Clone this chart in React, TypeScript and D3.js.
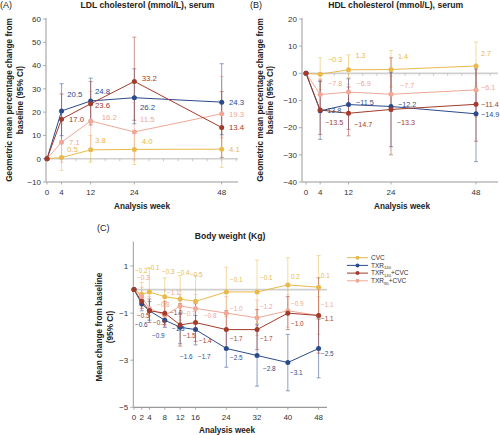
import React from "react";
import * as d3 from "d3";

const FONT = "'Liberation Sans', Arial, Helvetica, sans-serif";

// ---------- colours ----------
const C_CVC = "#e9b94c";
const C_TXR140 = "#2b4a8b";
const C_TXR140CVC = "#a23b2b";
const C_TXR90CVC = "#f0a796";

// ---------- Panel A: LDL cholesterol ----------
const weeksAB = [0, 4, 12, 24, 48];
const ticksYA = [-10, 0, 10, 20, 30, 40, 50, 60];
const ldlCVC = [0, 0.5, 3.8, 4.0, 4.1];
const ldlCVCLo = [0, -5, -1.5, -2.5, -3.7];
const ldlCVCHi = [0, 6.5, 10, 11, 12.5];
const ldlTXR140 = [0, 20.5, 24.8, 26.2, 24.3];
const ldlTXR140Lo = [0, 9.9, 15.5, 15, 10.3];
const ldlTXR140Hi = [0, 32.2, 34.6, 38.6, 40.8];
const ldlTXR140CVC = [0, 17.0, 23.6, 33.2, 13.4];
const ldlTXR140CVCLo = [0, 7, 14.5, 16.5, 0.5];
const ldlTXR140CVCHi = [0, 27.8, 33.2, 52.2, 28.9];
const ldlTXR90CVC = [0, 7.1, 16.2, 11.5, 19.3];
const ldlTXR90CVCLo = [0, -1.5, 3.5, -0.5, 9];
const ldlTXR90CVCHi = [0, 15, 29, 24, 35.3];

// ---------- Panel B: HDL cholesterol ----------
const ticksYB = [-40, -30, -20, -10, 0, 10, 20];
const hdlCVC = [0, -0.3, 1.3, 1.4, 2.7];
const hdlCVCLo = [0, -6, -4, -5, -5];
const hdlCVCHi = [0, 5.7, 6.8, 8.4, 11.5];
const hdlTXR140 = [0, -13.8, -11.5, -12.2, -14.9];
const hdlTXR140Lo = [0, -24.3, -20.6, -27, -32.5];
const hdlTXR140Hi = [0, -3, -2, 0.4, 1.6];
const hdlTXR140CVC = [0, -13.5, -14.7, -13.3, -11.4];
const hdlTXR140CVCLo = [0, -22.5, -23, -30, -25];
const hdlTXR140CVCHi = [0, -2.5, -5, 5.7, 2.8];
const hdlTXR90CVC = [0, -7.8, -6.9, -7.7, -6.1];
const hdlTXR90CVCLo = [0, -13, -12, -14, -16];
const hdlTXR90CVCHi = [0, -2, -1.5, -1, 3];

// ---------- Panel C: Body weight ----------
const weeksC = [0, 2, 4, 8, 12, 16, 24, 32, 40, 48];
const ticksYC = [-5, -3, -1, 1];
const bwCVC = [0, -0.2, -0.1, -0.3, -0.4, -0.5, -0.1, -0.1, 0.2, 0.1];
const bwCVCLo = [0, -0.7, -1.1, -1.1, -1.4, -1.6, -1.15, -1.45, -0.95, -1.25];
const bwCVCHi = [0, 0.3, 0.9, 0.5, 0.6, 0.6, 0.95, 1.25, 1.35, 1.45];
const bwTXR140 = [0, -0.6, -0.9, -1.3, -1.6, -1.7, -2.5, -2.8, -3.1, -2.5];
const bwTXR140Lo = [0, -0.9, -1.3, -1.6, -2.3, -2.35, -3.3, -4.1, -4.3, -3.75];
const bwTXR140Hi = [0, -0.3, -0.5, -1.0, -1.0, -1.1, -1.7, -1.5, -1.9, -1.25];
const bwTXR140CVC = [0, -0.5, -0.9, -1.0, -1.5, -1.4, -1.7, -1.7, -1.0, -1.1];
const bwTXR140CVCLo = [0, -0.8, -1.4, -1.5, -2.4, -2.2, -2.5, -2.55, -1.7, -2.7];
const bwTXR140CVCHi = [0, -0.2, -0.4, -0.5, -0.6, -0.6, -0.9, -0.85, -0.3, 0.5];
const bwTXR90CVC = [0, -0.3, -0.8, -1.1, -0.7, -0.8, -1.0, -1.2, -0.9, -1.1];
const bwTXR90CVCLo = [0, -0.7, -1.4, -1.6, -1.3, -1.4, -1.7, -1.95, -1.6, -1.9];
const bwTXR90CVCHi = [0, 0.1, -0.3, -0.6, -0.2, -0.2, -0.3, -0.45, -0.2, -0.3];

// ---------- label placement (layout only, pixels: [dx, dy]) ----------
const offA = {
  cvc: [[0, 0], [5.4, -7.8], [4.3, -9.4], [7.3, -7.7], [7.3, 0]],
  t140: [[0, 0], [5.7, -17], [4.3, -9.5], [5.6, 9.4], [7.3, 0]],
  t140c: [[0, 0], [7.4, 0], [4.3, 2], [7.3, -3.3], [7.3, 0]],
  t90c: [[0, 0], [7.4, 0], [11, -3.6], [5.6, -13], [7.3, 0]],
};
const offB = {
  cvc: [[0, 0], [8, -15], [7, -14], [7, -13], [5, -13]],
  t140: [[0, 0], [3, 0], [7.5, -2], [7, -2], [5, 0.5]],
  t140c: [[0, 0], [5, 12.5], [5.5, 11], [5.7, 13], [5, 0]],
  t90c: [[0, 0], [8, -11], [8, -8.7], [9, -8.5], [5, -2.5]],
};
const offC = {
  cvc: [[0, 0], [-6.7, -24], [-2.4, -24.3], [-2.8, -24.7], [-3.2, -26], [-5.5, -26.7], [3.7, -12], [3, -14], [3.2, -8.2], [2.4, -11.5]],
  t140: [[0, 0], [-6.7, 21.3], [2.6, 24.9], [7.2, 8.8], [-0.2, 29.4], [2.5, 27.1], [3.7, 9.2], [6, 12.8], [2.2, 10.1], [2.4, 5.8]],
  t140c: [[0, 0], [-4.7, 14.3], [3.6, 11.5], [5.2, 0], [2.8, 10.8], [3.5, 18.1], [3.7, 9.4], [3, 8.7], [3.2, 10.8], [2.4, 3.5]],
  t90c: [[0, 0], [-4.7, -18.4], [7.6, -3.4], [2.2, -22.8], [2.8, 8], [8.5, 7.6], [3.7, -4.2], [3, -10.6], [3.2, -6.8], [2.4, -10.5]],
};

type Series = {
  color: string;
  values: number[];
  lo: number[];
  hi: number[];
  off: number[][];
};

const fmt = (v: number) => v.toFixed(1).replace("-", "\u2212");
const fmtTick = (v: number) => String(v).replace("-", "\u2212");

type PanelProps = {
  weeks: number[];
  series: Series[];
  x: d3.ScaleLinear<number, number>;
  y: d3.ScaleLinear<number, number>;
  yTicks: number[];
  yAxisX: number;
  xAxisEnd: number;
  zeroTicks: number[];
  labelSize: number;
};

function Panel({ weeks, series, x, y, yTicks, yAxisX, xAxisEnd, zeroTicks, labelSize }: PanelProps) {
  const [yMin, yMax] = y.domain();
  const yb = y(yMin);
  const y0 = y(0);
  const line = d3
    .line<number>()
    .x((_, i) => x(weeks[i]))
    .y((d) => y(d));
  return (
    <g>
      {/* zero reference line */}
      <line x1={x(0)} x2={xAxisEnd} y1={y0} y2={y0} stroke="#cfcfcf" strokeWidth={1.6} />
      {zeroTicks.map((w) => (
        <line key={"zt" + w} x1={x(w)} x2={x(w)} y1={y0} y2={y0 + 2.5} stroke="#b5b5b5" strokeWidth={0.7} />
      ))}
      {/* y axis */}
      <line x1={yAxisX} x2={yAxisX} y1={y(yMax) - 1} y2={yb} stroke="#9a9a9a" strokeWidth={1} />
      {yTicks.map((t) => (
        <g key={"yt" + t}>
          <line x1={yAxisX - 3} x2={yAxisX} y1={y(t)} y2={y(t)} stroke="#9a9a9a" strokeWidth={0.8} />
          <text x={yAxisX - 5} y={y(t)} dy="0.35em" textAnchor="end" fontSize={8} fill="#333" fontFamily={FONT}>
            {fmtTick(t)}
          </text>
        </g>
      ))}
      {/* x axis */}
      <line x1={yAxisX} x2={xAxisEnd} y1={yb} y2={yb} stroke="#9a9a9a" strokeWidth={1.2} />
      {weeks.map((w) => (
        <g key={"xt" + w}>
          <line x1={x(w)} x2={x(w)} y1={yb} y2={yb + 2.5} stroke="#9a9a9a" strokeWidth={0.8} />
          <text x={x(w)} y={yb + 10} dy="0.35em" textAnchor="middle" fontSize={8} fill="#333" fontFamily={FONT}>
            {w}
          </text>
        </g>
      ))}
      {/* error bars */}
      {series.map((s, si) =>
        weeks.map((w, i) =>
          i === 0 ? null : (
            <g key={"eb" + si + "-" + i} stroke={s.color} strokeWidth={0.8} opacity={0.65}>
              <line x1={x(w)} x2={x(w)} y1={y(s.lo[i])} y2={y(s.hi[i])} />
              <line x1={x(w) - 2} x2={x(w) + 2} y1={y(s.lo[i])} y2={y(s.lo[i])} />
              <line x1={x(w) - 2} x2={x(w) + 2} y1={y(s.hi[i])} y2={y(s.hi[i])} />
            </g>
          )
        )
      )}
      {/* lines */}
      {series.map((s, si) => (
        <path key={"ln" + si} d={line(s.values) || ""} fill="none" stroke={s.color} strokeWidth={1} />
      ))}
      {/* points */}
      {series.map((s, si) =>
        s.values.map((v, i) => (
          <circle key={"pt" + si + "-" + i} cx={x(weeks[i])} cy={y(v)} r={2.5} fill={s.color} />
        ))
      )}
      {/* value labels */}
      {series.map((s, si) =>
        s.values.map((v, i) =>
          i === 0 ? null : (
            <text
              key={"lb" + si + "-" + i}
              x={x(weeks[i]) + s.off[i][0]}
              y={y(v) + s.off[i][1]}
              dy="0.35em"
              fontSize={labelSize}
              fill={s.color}
              fontFamily={FONT}
            >
              {fmt(v)}
            </text>
          )
        )
      )}
    </g>
  );
}

function YLabel({ cx, cy, lines, gap }: { cx: number; cy: number; lines: string[]; gap: number }) {
  return (
    <g transform={`translate(${cx},${cy}) rotate(-90)`}>
      {lines.map((l, i) => (
        <text key={i} x={0} y={i * gap} dy="0.35em" textAnchor="middle" fontSize={8.3} fontWeight="bold" fill="#222" fontFamily={FONT}>
          {l}
        </text>
      ))}
    </g>
  );
}

export default function App() {
  const xA = d3.scaleLinear().domain([0, 48]).range([47, 221.7]);
  const yA = d3.scaleLinear().domain([-10, 60]).range([182, 19]);
  const xB = d3.scaleLinear().domain([0, 48]).range([306, 476]);
  const yB = d3.scaleLinear().domain([-40, 20]).range([182, 19]);
  const xC = d3.scaleLinear().domain([0, 48]).range([134, 318.6]);
  const yC = d3.scaleLinear().domain([-5, 2]).range([407.3, 242.5]);

  const seriesA: Series[] = [
    { color: C_CVC, values: ldlCVC, lo: ldlCVCLo, hi: ldlCVCHi, off: offA.cvc },
    { color: C_TXR90CVC, values: ldlTXR90CVC, lo: ldlTXR90CVCLo, hi: ldlTXR90CVCHi, off: offA.t90c },
    { color: C_TXR140, values: ldlTXR140, lo: ldlTXR140Lo, hi: ldlTXR140Hi, off: offA.t140 },
    { color: C_TXR140CVC, values: ldlTXR140CVC, lo: ldlTXR140CVCLo, hi: ldlTXR140CVCHi, off: offA.t140c },
  ];
  const seriesB: Series[] = [
    { color: C_CVC, values: hdlCVC, lo: hdlCVCLo, hi: hdlCVCHi, off: offB.cvc },
    { color: C_TXR90CVC, values: hdlTXR90CVC, lo: hdlTXR90CVCLo, hi: hdlTXR90CVCHi, off: offB.t90c },
    { color: C_TXR140, values: hdlTXR140, lo: hdlTXR140Lo, hi: hdlTXR140Hi, off: offB.t140 },
    { color: C_TXR140CVC, values: hdlTXR140CVC, lo: hdlTXR140CVCLo, hi: hdlTXR140CVCHi, off: offB.t140c },
  ];
  const seriesC: Series[] = [
    { color: C_CVC, values: bwCVC, lo: bwCVCLo, hi: bwCVCHi, off: offC.cvc },
    { color: C_TXR90CVC, values: bwTXR90CVC, lo: bwTXR90CVCLo, hi: bwTXR90CVCHi, off: offC.t90c },
    { color: C_TXR140, values: bwTXR140, lo: bwTXR140Lo, hi: bwTXR140Hi, off: offC.t140 },
    { color: C_TXR140CVC, values: bwTXR140CVC, lo: bwTXR140CVCLo, hi: bwTXR140CVCHi, off: offC.t140c },
  ];

  const zeroTicksAB = d3.range(4, 53, 4);

  const legend = [
    { color: C_CVC, base: "CVC", sub: "", tail: "" },
    { color: C_TXR140, base: "TXR", sub: "140", tail: "" },
    { color: C_TXR140CVC, base: "TXR", sub: "140", tail: "+CVC" },
    { color: C_TXR90CVC, base: "TXR", sub: "90", tail: "+CVC" },
  ];
  const legendY = [257.7, 265.4, 273.1, 280.8];

  return (
    <svg width={500} height={435} style={{ position: "absolute", left: 0, top: 0, background: "#fff" }} fontFamily={FONT}>
      <rect x={0} y={0} width={500} height={435} fill="#fff" />
      {/* Panel A */}
      <text x={0} y={5} dy="0.35em" fontSize={9} fill="#222">(A)</text>
      <text x={147.5} y={5} dy="0.35em" textAnchor="middle" fontSize={8.6} fontWeight="bold" fill="#222">
        LDL cholesterol (mmol/L), serum
      </text>
      <YLabel cx={9.5} cy={100} lines={["Geometric mean percentage change from", "baseline (95% CI)"]} gap={10.5} />
      <Panel weeks={weeksAB} series={seriesA} x={xA} y={yA} yTicks={ticksYA} yAxisX={46} xAxisEnd={238} zeroTicks={zeroTicksAB} labelSize={7.8} />
      <text x={142} y={206} dy="0.35em" textAnchor="middle" fontSize={8.2} fontWeight="bold" fill="#222">Analysis week</text>

      {/* Panel B */}
      <text x={250} y={5} dy="0.35em" fontSize={9} fill="#222">(B)</text>
      <text x={395.7} y={5} dy="0.35em" textAnchor="middle" fontSize={8.6} fontWeight="bold" fill="#222">
        HDL cholesterol (mmol/L), serum
      </text>
      <YLabel cx={260} cy={100} lines={["Geometric mean percentage change from", "baseline (95% CI)"]} gap={10.5} />
      <Panel weeks={weeksAB} series={seriesB} x={xB} y={yB} yTicks={ticksYB} yAxisX={302} xAxisEnd={498} zeroTicks={zeroTicksAB} labelSize={7.2} />
      <text x={402} y={206} dy="0.35em" textAnchor="middle" fontSize={8.2} fontWeight="bold" fill="#222">Analysis week</text>

      {/* Panel C */}
      <text x={97} y={228} dy="0.35em" fontSize={9} fill="#222">(C)</text>
      <text x={230} y={236} dy="0.35em" textAnchor="middle" fontSize={8.6} fontWeight="bold" fill="#222">Body weight (Kg)</text>
      <YLabel cx={99.5} cy={327} lines={["Mean change from baseline", "(95% CI)"]} gap={10.5} />
      <Panel weeks={weeksC} series={seriesC} x={xC} y={yC} yTicks={ticksYC} yAxisX={133.3} xAxisEnd={327} zeroTicks={weeksC.slice(1)} labelSize={6.4} />
      <text x={227} y={430} dy="0.35em" textAnchor="middle" fontSize={8.2} fontWeight="bold" fill="#222">Analysis week</text>

      {/* Legend */}
      {legend.map((l, i) => (
        <g key={"lg" + i}>
          <line x1={347} x2={368} y1={legendY[i]} y2={legendY[i]} stroke={l.color} strokeWidth={1} />
          <circle cx={357.5} cy={legendY[i]} r={2} fill={l.color} />
          <text x={371} y={legendY[i]} dy="0.35em" fontSize={6.5} fill="#333">
            {l.base}
            {l.sub ? (
              <tspan fontSize={4.2} dy="1.6">{l.sub}</tspan>
            ) : null}
            {l.tail ? <tspan dy={l.sub ? "-1.6" : "0"}>{l.tail}</tspan> : null}
          </text>
        </g>
      ))}
    </svg>
  );
}
